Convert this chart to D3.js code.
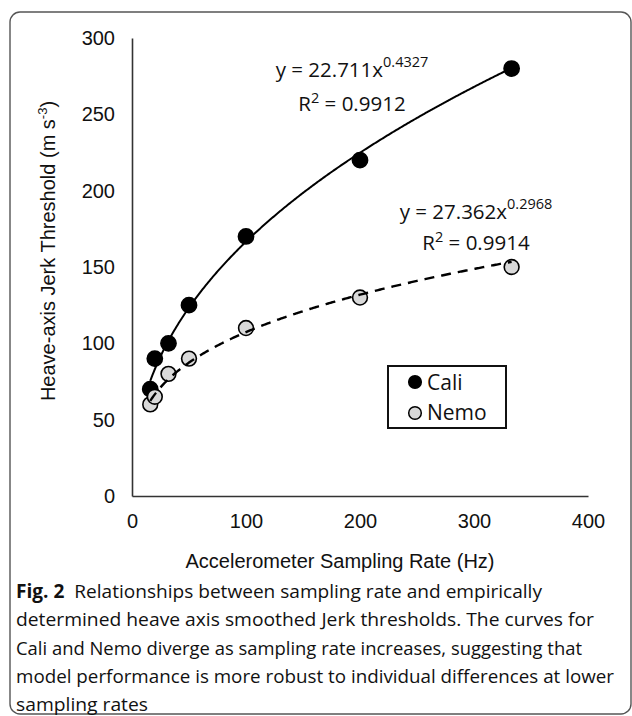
<!DOCTYPE html>
<html>
<head>
<meta charset="utf-8">
<script src="https://cdn.jsdelivr.net/npm/d3@7"></script>
<style>
  body { margin: 0; background: #fff; }
  .axis text { font-family: "Liberation Sans", Arial, sans-serif; font-size: 20px; fill: #111; }
  .axis path { stroke: #333; stroke-width: 1.6; }
  .eq { font-family: "Open Sans", sans-serif; font-size: 20.5px; fill: #111; }
  .cap { font-family: "Open Sans", sans-serif; font-size: 19px; fill: #111; }
</style>
</head>
<body>
<div id="chart"></div>
<script>
// sampling rates (Hz) and jerk thresholds per animal
var rates = [16, 20, 32, 50, 100, 200, 333];
var caliValues = [70, 90, 100, 125, 170, 220, 280];
var nemoValues = [60, 65, 80, 90, 110, 130, 150];
var xTicks = [0, 100, 200, 300, 400];
var yTicks = [0, 50, 100, 150, 200, 250, 300];
// power trendlines y = a * x^b, as printed on the chart
var caliFit = [22.711, 0.4327];
var nemoFit = [27.362, 0.2968];
var captionLines = [
    "Relationships between sampling rate and empirically",
    "determined heave axis smoothed Jerk thresholds. The curves for",
    "Cali and Nemo diverge as sampling rate increases, suggesting that",
    "model performance is more robust to individual differences at lower",
    "sampling rates"
];

var width = 632, height = 716;
var svg = d3.select("#chart").append("svg")
    .attr("width", width)
    .attr("height", height);

// outer frame
svg.append("rect")
    .attr("x", 10).attr("y", 12)
    .attr("width", 621).attr("height", 702)
    .attr("rx", 10)
    .attr("fill", "none")
    .attr("stroke", "#555")
    .attr("stroke-width", 1.4);

var x = d3.scaleLinear().domain([0, 400]).range([132, 588]);
var y = d3.scaleLinear().domain([0, 300]).range([496, 38]);

svg.append("g")
    .attr("class", "axis")
    .attr("transform", "translate(0,496)")
    .call(d3.axisBottom(x).tickValues(xTicks).tickSize(0).tickPadding(18));
svg.append("g")
    .attr("class", "axis")
    .attr("transform", "translate(132,0)")
    .call(d3.axisLeft(y).tickValues(yTicks).tickSize(0).tickPadding(17));

// axis titles
svg.append("text")
    .attr("x", 340).attr("y", 568)
    .attr("text-anchor", "middle")
    .style("font-family", "Liberation Sans, Arial, sans-serif")
    .style("font-size", "20px")
    .style("fill", "#111")
    .text("Accelerometer Sampling Rate (Hz)");

var yTitle = svg.append("text")
    .attr("transform", "translate(55,251) rotate(-90)")
    .attr("text-anchor", "middle")
    .style("font-family", "Liberation Sans, Arial, sans-serif")
    .style("font-size", "20px")
    .style("fill", "#111");
yTitle.append("tspan").text("Heave-axis Jerk Threshold (m s");
yTitle.append("tspan").attr("dy", -8).style("font-size", "13px").text("-3");
yTitle.append("tspan").attr("dy", 8).text(")");

// markers
function points(values, cls, fill, r) {
    svg.append("g").selectAll("circle." + cls)
        .data(values)
        .join("circle")
        .attr("class", cls)
        .attr("cx", function (d, i) { return x(rates[i]); })
        .attr("cy", function (d) { return y(d); })
        .attr("r", r)
        .attr("fill", fill)
        .attr("stroke", "#000")
        .attr("stroke-width", 1.6);
}
points(caliValues, "cali", "#000", 7.6);
points(nemoValues, "nemo", "#d9d9d9", 7.4);

// trendlines
function trend(fit, dash) {
    var xs = d3.range(rates[0], rates[rates.length - 1] + 0.5, 1);
    var line = d3.line()
        .x(function (d) { return x(d); })
        .y(function (d) { return y(fit[0] * Math.pow(d, fit[1])); });
    svg.append("path")
        .datum(xs)
        .attr("d", line)
        .attr("fill", "none")
        .attr("stroke", "#000")
        .attr("stroke-width", dash ? 2.4 : 2)
        .attr("stroke-dasharray", dash ? "10,7" : null);
}
trend(caliFit, false);
trend(nemoFit, true);

// equations
function equation(cx, y1, y2, fit, r2) {
    var t = svg.append("text").attr("class", "eq")
        .attr("x", cx).attr("y", y1).attr("text-anchor", "middle");
    t.append("tspan").text("y = " + fit[0] + "x");
    t.append("tspan").attr("dy", -10).style("font-size", "14.5px").text(fit[1]);
    var t2 = svg.append("text").attr("class", "eq")
        .attr("x", cx).attr("y", y2).attr("text-anchor", "middle");
    t2.append("tspan").text("R");
    t2.append("tspan").attr("dy", -8).style("font-size", "14.5px").text("2");
    t2.append("tspan").attr("dy", 8).text(" = " + r2);
}
equation(352, 77, 111, caliFit, "0.9912");
equation(476, 219, 250, nemoFit, "0.9914");

// legend
var legend = svg.append("g");
legend.append("rect")
    .attr("x", 388).attr("y", 366)
    .attr("width", 118).attr("height", 62)
    .attr("fill", "#fff")
    .attr("stroke", "#111")
    .attr("stroke-width", 2);
var legendItems = [["Cali", "#000"], ["Nemo", "#d9d9d9"]];
legendItems.forEach(function (d, i) {
    legend.append("circle")
        .attr("cx", 415).attr("cy", 382 + i * 31)
        .attr("r", 6.3)
        .attr("fill", d[1])
        .attr("stroke", "#000")
        .attr("stroke-width", 1.5);
    legend.append("text").attr("class", "eq")
        .attr("x", 427).attr("y", 390 + i * 30)
        .style("font-size", "21px")
        .text(d[0]);
});

// caption
var capBase = 598, capStep = 28.3;
var capLen = [526, 578, 566, 598, 132];
captionLines.forEach(function (s, i) {
    var t = svg.append("text").attr("class", "cap")
        .attr("x", 16).attr("y", capBase + i * capStep)
        .attr("textLength", capLen[i])
        .attr("lengthAdjust", "spacingAndGlyphs");
    if (i === 0) {
        t.append("tspan").style("font-weight", "bold").text("Fig. 2");
        t.append("tspan").text("\u00a0 " + s);
    } else {
        t.text(s);
    }
});
</script>
</body>
</html>
